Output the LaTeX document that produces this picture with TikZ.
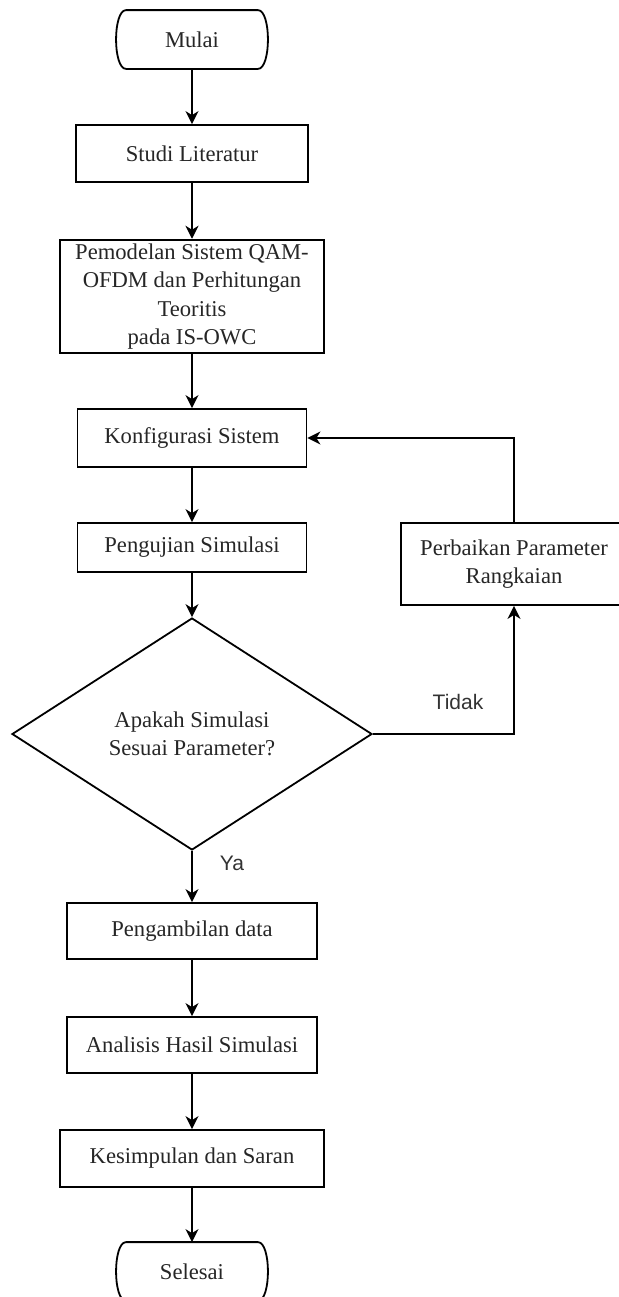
\documentclass[tikz,border=0pt]{standalone}
\usepackage{fontspec}
\setmainfont{Liberation Serif}
\newfontfamily\labelfont{Liberation Sans}
\usetikzlibrary{shapes.geometric,arrows.meta}
\tikzset{
  proc/.style={draw, line width=0.9pt, rectangle, inner sep=2pt, align=center,
    font=\fontsize{11.3}{14.2}\selectfont, text=black!85},
  term/.style={proc, draw=none, minimum width=75pt, minimum height=28.5pt},
  dec/.style={proc, diamond, aspect=1.55, minimum width=180pt, minimum height=116pt, inner sep=0pt},
  flow/.style={draw, line width=0.9pt, -{Stealth[length=6.5pt,width=6.5pt,inset=2pt]}},
  lbl/.style={font=\labelfont\fontsize{10.5}{12}\selectfont, text=black!80},
}
\newcommand\termoutline[1]{%
  \draw[line width=0.9pt] ([xshift=5pt]#1.north west) -- ([xshift=-5pt]#1.north east)
    .. controls ([xshift=1.7pt]#1.north east) and ([xshift=1.7pt]#1.south east) .. ([xshift=-5pt]#1.south east)
    -- ([xshift=5pt]#1.south west)
    .. controls ([xshift=-1.7pt]#1.south west) and ([xshift=-1.7pt]#1.north west) .. ([xshift=5pt]#1.north west)
    -- cycle;}
\begin{document}
\begin{tikzpicture}[x=0.5pt,y=-0.5pt]
\useasboundingbox (0,0) rectangle (618,1297);
\node[term] (mulai) at (192,39.5) {Mulai};
\termoutline{mulai}
\node[proc, minimum width=116pt, minimum height=28.5pt] (studi) at (192,153.5) {Studi Literatur};
\node[proc, minimum width=132pt, minimum height=56.5pt] (model) at (192,296.5)
  {Pemodelan Sistem QAM-\\OFDM dan Perhitungan\\Teoritis\\pada IS-OWC};
\node[proc, minimum width=114.5pt, minimum height=29pt] (konf) at (192,438) {Konfigurasi Sistem};
\node[proc, minimum width=114.5pt, minimum height=24.5pt] (uji) at (192,547.5) {Pengujian Simulasi};
\node[dec] (cek) at (192,734) {Apakah Simulasi\\Sesuai Parameter?};
\node[proc, minimum width=125pt, minimum height=28pt] (ambil) at (192,931) {Pengambilan data};
\node[proc, minimum width=125pt, minimum height=28pt] (anal) at (192,1045) {Analisis Hasil Simulasi};
\node[proc, minimum width=132pt, minimum height=28.5pt] (simp) at (192,1158.5) {Kesimpulan dan Saran};
\node[term] (selesai) at (192,1271.5) {Selesai};
\termoutline{selesai}
\node[proc, minimum width=113pt, minimum height=41pt] (perb) at (514,564) {Perbaikan Parameter\\Rangkaian};

\draw[flow] (mulai) -- (studi);
\draw[flow] (studi) -- (model);
\draw[flow] (model) -- (konf);
\draw[flow] (konf) -- (uji);
\draw[flow] (uji) -- (cek.north);
\draw[flow] (cek.east) -| (perb.south);
\draw[flow] (perb.north) |- (konf.east);
\draw[flow] (cek.south) -- (ambil.north);
\draw[flow] (ambil) -- (anal);
\draw[flow] (anal) -- (simp);
\draw[flow] (simp) -- (selesai);

\node[lbl] (tidak) at (458,702) {Tidak};
\node[lbl] (ya) at (232,863) {Ya};
\end{tikzpicture}
\end{document}
